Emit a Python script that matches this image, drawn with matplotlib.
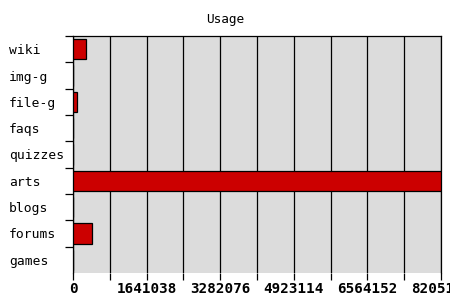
import numpy as np
import matplotlib
matplotlib.use("Agg")
import matplotlib.pyplot as plt

# data
categories = ["wiki", "img-g", "file-g", "faqs", "quizzes", "arts", "blogs", "forums", "games"]
values = [296000, 0, 89000, 0, 0, 8205190, 0, 423000, 0]

xmax = max(values)
step = xmax / 5
tick_values = [int(round(step * k)) for k in range(6)]

plt.rcParams['font.family'] = ['DejaVu Sans Mono']

fig = plt.figure(figsize=(4.5, 3), dpi=100)
ax = fig.add_axes([73 / 450, 27 / 300, 368 / 450, 237 / 300])
ax.set_facecolor("#dcdcdc")

ypos = np.arange(len(categories))
ax.barh(ypos, values, height=0.78, color="#cc0000", edgecolor="black", linewidth=0.9, zorder=3)

ax.set_xlim(0, xmax)
ax.set_ylim(len(categories) - 0.5, -0.5)

# x axis: labelled ticks every other grid line
ax.set_xticks(tick_values)
ax.set_xticklabels([str(v) for v in tick_values], fontsize=10.3, fontweight="bold")
ax.set_xticks([step * (k + 0.5) for k in range(5)], minor=True)
ax.tick_params(axis="x", which="both", direction="out", length=5, width=0.9, pad=1.5, color="black")
ax.grid(True, axis="x", which="both", color="black", linewidth=0.9, zorder=2)

# y axis: labels centred in slots, ticks on slot boundaries
ax.set_yticks(ypos)
ax.set_yticklabels(categories, fontsize=9.4)
for lab in ax.get_yticklabels():
    lab.set_horizontalalignment("left")
ax.tick_params(axis="y", which="major", length=0, pad=46)
ax.set_yticks([b - 0.5 for b in range(len(categories))], minor=True)
ax.tick_params(axis="y", which="minor", direction="out", length=6, width=0.9, color="black")

for side in ["top", "left", "right"]:
    ax.spines[side].set_color("black")
    ax.spines[side].set_linewidth(0.9)
ax.spines["bottom"].set_visible(False)
ax.set_axisbelow(True)

# title is centred on the whole image, not on the plot area
fig.text(0.5, 1 - 20 / 300, "Usage", fontsize=9.2, ha="center", va="center")

fig.savefig("out.png", dpi=100)
